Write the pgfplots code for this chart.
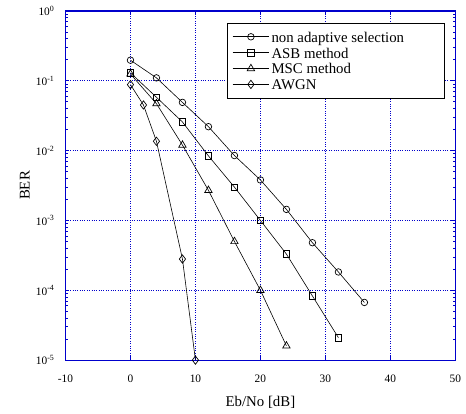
\documentclass[border=0pt]{standalone}
\usepackage{fontspec}
\setmainfont{Liberation Serif}
\usepackage{pgfplots}
\pgfplotsset{compat=1.18}
\definecolor{axblue}{rgb}{0,0,0.8}
\begin{document}
\fontsize{15}{18}\selectfont
\begin{tikzpicture}
\begin{semilogyaxis}[
  scale only axis,
  width=393bp, height=352bp,
  xmin=-10, xmax=50, ymin=1e-5, ymax=1,
  xtick={-10,0,10,20,30,40,50},
  xticklabels={-10,0,10,20,30,40,50},
  ytick={1e-5,1e-4,1e-3,1e-2,1e-1,1},
  yticklabels={10\textsuperscript{-5},10\textsuperscript{-4},10\textsuperscript{-3},10\textsuperscript{-2},10\textsuperscript{-1},10\textsuperscript{0}},
  minor ytick={},
  tick label style={font=\fontsize{11.5}{13}\selectfont},
  xticklabel style={yshift=-10bp},
  yticklabel style={xshift=-6bp},
  axis line style={axblue, line width=1.2bp},
  tick style={axblue, line width=0.8bp},
  major tick length=4bp,
  tick align=inside,
  grid=major,
  major grid style={axblue, dotted, line width=0.9bp},
  xlabel={Eb/No [dB]},
  ylabel={BER},
  xlabel style={yshift=-3bp},
  ylabel style={yshift=-4bp},
  legend style={at={(0.972,0.966)}, anchor=north east, draw=black, line width=0.6bp,
     font=\fontsize{15}{15}\selectfont, row sep=0bp, inner xsep=5bp, inner ysep=5.8bp,
     nodes={inner ysep=0.5bp, text height=13bp, text depth=2bp}},
  legend cell align=left,
  legend image code/.code={\draw[mark repeat=2,mark phase=2,#1] plot coordinates {(0bp,0bp)(18.5bp,0bp)(37bp,0bp)};},
  every axis plot/.append style={black, line width=0.6bp, mark options={solid, fill=none, line width=0.7bp}},
]
\addplot[mark=o, mark size=3.3bp] coordinates {
(0,0.197)(4,0.11)(8,0.049)(12,0.022)(16,0.0085)(20,0.0038)(24,0.00144)(28,0.00048)(32,0.000183)(36,0.000067)};
\addlegendentry{\makebox[167bp][l]{non adaptive selection}}
\addplot[mark=square, mark size=3.3bp] coordinates {
(0,0.13)(4,0.058)(8,0.0257)(12,0.0084)(16,0.003)(20,0.001)(24,0.00033)(28,0.000083)(32,0.000021)};
\addlegendentry{ASB method}
\addplot[mark=triangle, mark size=4.3bp] coordinates {
(0,0.125)(4,0.047)(8,0.012)(12,0.0027)(16,0.0005)(20,0.0001)(24,0.000016)};
\addlegendentry{MSC method}
\addplot[mark=diamond, mark size=4.2bp] coordinates {
(0,0.088)(2,0.045)(4,0.0136)(8,0.00028)(10,0.00001)};
\addlegendentry{AWGN}
\end{semilogyaxis}
\path (current axis.south west) ++(-66bp,-47bp) rectangle ++(466bp,410bp);
\end{tikzpicture}
\end{document}
